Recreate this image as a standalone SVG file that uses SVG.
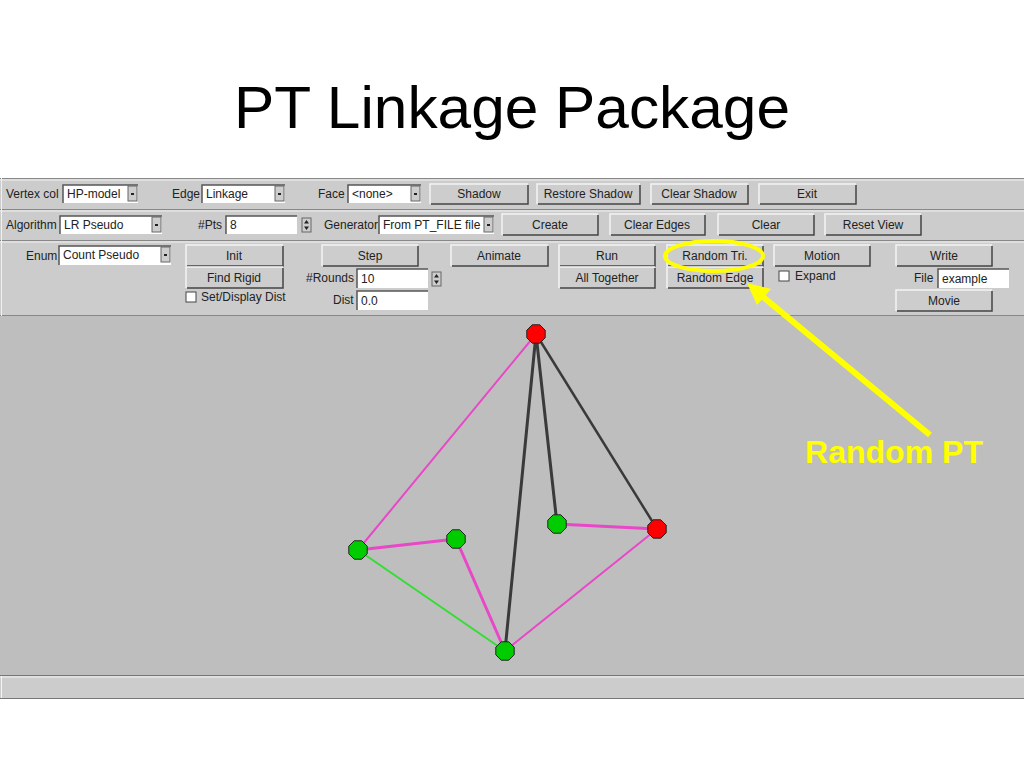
<svg xmlns="http://www.w3.org/2000/svg" width="1024" height="768" viewBox="0 0 1024 768">
<style>
.t{font-family:"Liberation Sans",Arial,sans-serif;font-size:12px;fill:#222}
.tc{font-family:"Liberation Sans",Arial,sans-serif;font-size:12px;fill:#222;text-anchor:middle}
.bf{fill:#cdcdcd}
.hi{fill:none;stroke:#f4f4f4;stroke-width:1.5}
.sh{fill:none;stroke:#444;stroke-width:1.5}
.fld{fill:#ffffff}
.sk{fill:none;stroke:#555;stroke-width:1.5}
.skl{fill:none;stroke:#eee;stroke-width:1}
.arr{fill:#cdcdcd;stroke:#666;stroke-width:1}
.pink{stroke:#e848c8;fill:none}
.dark{stroke:#3a3a3a;fill:none}
.grn{stroke:#33dd33;fill:none}
.red{fill:#ff0000;stroke:#222;stroke-width:1}
.gn{fill:#00cc00;stroke:#222;stroke-width:1}
</style>
<defs>
<polygon id="oct" points="9.2,3.8 3.8,9.2 -3.8,9.2 -9.2,3.8 -9.2,-3.8 -3.8,-9.2 3.8,-9.2 9.2,-3.8"/>
<g id="dd"><rect x="0" y="0" width="9" height="15" class="arr"/><rect x="3" y="7" width="3" height="2" fill="#222"/></g>
<g id="spin"><rect x="0" y="0" width="9" height="14" fill="#cdcdcd" stroke="#666" stroke-width="1"/><path d="M4.5,2 L7,5.5 H2 Z M4.5,12 L7,8.5 H2 Z" fill="#222"/></g>
</defs>
<rect width="1024" height="768" fill="#ffffff"/>
<text x="512" y="128" text-anchor="middle" font-family="Liberation Sans, Arial, sans-serif" font-size="60" fill="#000" textLength="556" lengthAdjust="spacingAndGlyphs">PT Linkage Package</text>

<g id="panel">
<rect x="0" y="178" width="1024" height="138" fill="#cccccc"/>
<path d="M0,178.5 H1024 M0,209.5 H1024 M0,240.5 H1024 M0,315.5 H1024" stroke="#888" stroke-width="1.2"/>
<path d="M0,180 H1024 M0,211 H1024 M0,242 H1024 M1.5,178 V316" stroke="#f0f0f0" stroke-width="1"/>
</g>

<g id="row1">
<text class="t" x="6" y="198">Vertex col</text>
<rect x="63" y="185" width="75" height="18" class="fld"/><path d="M63,203 V185 H138" class="sk"/>
<text class="t" x="67" y="198">HP-model</text><use href="#dd" x="128" y="186"/>
<text class="t" x="172" y="198">Edge</text>
<rect x="202" y="185" width="83" height="18" class="fld"/><path d="M202,203 V185 H285" class="sk"/>
<text class="t" x="206" y="198">Linkage</text><use href="#dd" x="275" y="186"/>
<text class="t" x="318" y="198">Face</text>
<rect x="348" y="185" width="73" height="18" class="fld"/><path d="M348,203 V185 H421" class="sk"/>
<text class="t" x="352" y="198" font-size="11">&lt;none&gt;</text><use href="#dd" x="411" y="186"/>
<g id="b-shadow"><rect x="430" y="184" width="98" height="20" class="bf"/><path d="M430,204 V184 H528" class="hi"/><path d="M431,204 H528 V185" class="sh"/><text class="tc" x="479" y="198">Shadow</text></g>
<g id="b-restore"><rect x="537" y="184" width="103" height="20" class="bf"/><path d="M537,204 V184 H640" class="hi"/><path d="M538,204 H640 V185" class="sh"/><text class="tc" x="588" y="198">Restore Shadow</text></g>
<g id="b-clearshadow"><rect x="651" y="184" width="97" height="20" class="bf"/><path d="M651,204 V184 H748" class="hi"/><path d="M652,204 H748 V185" class="sh"/><text class="tc" x="699" y="198">Clear Shadow</text></g>
<g id="b-exit"><rect x="759" y="184" width="97" height="20" class="bf"/><path d="M759,204 V184 H856" class="hi"/><path d="M760,204 H856 V185" class="sh"/><text class="tc" x="807" y="198">Exit</text></g>
</g>

<g id="row2">
<text class="t" x="6" y="229">Algorithm</text>
<rect x="60" y="216" width="102" height="18" class="fld"/><path d="M60,234 V216 H162" class="sk"/>
<text class="t" x="64" y="229">LR Pseudo</text><use href="#dd" x="152" y="217"/>
<text class="t" x="198" y="229">#Pts</text>
<rect x="226" y="216" width="71" height="18" class="fld"/><path d="M226,234 V216 H297" class="sk"/>
<text class="t" x="230" y="229">8</text><use href="#spin" x="302" y="218"/>
<text class="t" x="324" y="229">Generator</text>
<rect x="379" y="216" width="115" height="18" class="fld"/><path d="M379,234 V216 H494" class="sk"/>
<text class="t" x="383" y="229">From PT_FILE file</text><use href="#dd" x="484" y="217"/>
<g id="b-create"><rect x="502" y="214" width="96" height="21" class="bf"/><path d="M502,235 V214 H598" class="hi"/><path d="M503,235 H598 V215" class="sh"/><text class="tc" x="550" y="229">Create</text></g>
<g id="b-clearedges"><rect x="610" y="214" width="95" height="21" class="bf"/><path d="M610,235 V214 H705" class="hi"/><path d="M611,235 H705 V215" class="sh"/><text class="tc" x="657" y="229">Clear Edges</text></g>
<g id="b-clear"><rect x="718" y="214" width="96" height="21" class="bf"/><path d="M718,235 V214 H814" class="hi"/><path d="M719,235 H814 V215" class="sh"/><text class="tc" x="766" y="229">Clear</text></g>
<g id="b-resetview"><rect x="825" y="214" width="96" height="21" class="bf"/><path d="M825,235 V214 H921" class="hi"/><path d="M826,235 H921 V215" class="sh"/><text class="tc" x="873" y="229">Reset View</text></g>
</g>

<g id="row3">
<text class="t" x="26" y="260">Enum</text>
<rect x="59" y="246" width="112" height="19" class="fld"/><path d="M59,265 V246 H171" class="sk"/>
<text class="t" x="63" y="259">Count Pseudo</text><use href="#dd" x="161" y="247"/>
<g id="b-init"><rect x="186" y="245" width="97" height="21" class="bf"/><path d="M186,266 V245 H283" class="hi"/><path d="M187,266 H283 V246" class="sh"/><text class="tc" x="234" y="260">Init</text></g>
<g id="b-findrigid"><rect x="186" y="267" width="97" height="21" class="bf"/><path d="M186,288 V267 H283" class="hi"/><path d="M187,288 H283 V268" class="sh"/><text class="tc" x="234" y="282">Find Rigid</text></g>
<rect x="186" y="292" width="10" height="10" fill="#fff" stroke="#444" stroke-width="1"/>
<text class="t" x="201" y="301">Set/Display Dist</text>
<g id="b-step"><rect x="322" y="245" width="96" height="21" class="bf"/><path d="M322,266 V245 H418" class="hi"/><path d="M323,266 H418 V246" class="sh"/><text class="tc" x="370" y="260">Step</text></g>
<text class="t" x="306" y="282">#Rounds</text>
<rect x="357" y="269" width="71" height="19" class="fld"/><path d="M357,288 V269 H428" class="sk"/>
<text class="t" x="361" y="283">10</text><use href="#spin" x="432" y="272"/>
<text class="t" x="333" y="304">Dist</text>
<rect x="357" y="291" width="71" height="19" class="fld"/><path d="M357,310 V291 H428" class="sk"/>
<text class="t" x="361" y="305">0.0</text>
<g id="b-animate"><rect x="451" y="245" width="97" height="21" class="bf"/><path d="M451,266 V245 H548" class="hi"/><path d="M452,266 H548 V246" class="sh"/><text class="tc" x="499" y="260">Animate</text></g>
<g id="b-run"><rect x="559" y="245" width="96" height="21" class="bf"/><path d="M559,266 V245 H655" class="hi"/><path d="M560,266 H655 V246" class="sh"/><text class="tc" x="607" y="260">Run</text></g>
<g id="b-alltogether"><rect x="559" y="267" width="96" height="21" class="bf"/><path d="M559,288 V267 H655" class="hi"/><path d="M560,288 H655 V268" class="sh"/><text class="tc" x="607" y="282">All Together</text></g>
<g id="b-randomtri"><rect x="667" y="245" width="96" height="21" class="bf"/><path d="M667,266 V245 H763" class="hi"/><path d="M668,266 H763 V246" class="sh"/><text class="tc" x="715" y="260">Random Tri.</text></g>
<g id="b-randomedge"><rect x="667" y="267" width="96" height="21" class="bf"/><path d="M667,288 V267 H763" class="hi"/><path d="M668,288 H763 V268" class="sh"/><text class="tc" x="715" y="282">Random Edge</text></g>
<g id="b-motion"><rect x="774" y="245" width="96" height="21" class="bf"/><path d="M774,266 V245 H870" class="hi"/><path d="M775,266 H870 V246" class="sh"/><text class="tc" x="822" y="260">Motion</text></g>
<rect x="779" y="271" width="10" height="10" fill="#fff" stroke="#444" stroke-width="1"/>
<text class="t" x="795" y="280">Expand</text>
<g id="b-write"><rect x="896" y="245" width="96" height="21" class="bf"/><path d="M896,266 V245 H992" class="hi"/><path d="M897,266 H992 V246" class="sh"/><text class="tc" x="944" y="260">Write</text></g>
<text class="t" x="914" y="282">File</text>
<rect x="938" y="269" width="71" height="19" class="fld"/><path d="M938,288 V269 H1009" class="sk"/>
<text class="t" x="942" y="283">example</text>
<g id="b-movie"><rect x="896" y="290" width="96" height="21" class="bf"/><path d="M896,311 V290 H992" class="hi"/><path d="M897,311 H992 V291" class="sh"/><text class="tc" x="944" y="305">Movie</text></g>
</g>

<rect id="canvas" x="0" y="316" width="1024" height="359" fill="#bebebe"/>
<g id="statusbar">
<rect x="0" y="676" width="1024" height="22" fill="#cccccc"/>
<path d="M0,675.5 H1024 M0,698.5 H1024" stroke="#777" stroke-width="1.2"/>
<path d="M0,677 H1024 M1.5,676 V698" stroke="#f4f4f4" stroke-width="1"/>
</g>

<g id="connectors" stroke-linecap="round">
<line x1="536" y1="334" x2="358" y2="550" class="pink" stroke-width="2"/>
<line x1="657" y1="529" x2="505" y2="651" class="pink" stroke-width="2"/>
<line x1="557" y1="524" x2="657" y2="529" class="pink" stroke-width="3"/>
<line x1="358" y1="550" x2="456" y2="539" class="pink" stroke-width="3"/>
<line x1="456" y1="539" x2="505" y2="651" class="pink" stroke-width="3"/>
<line x1="358" y1="550" x2="505" y2="651" class="grn" stroke-width="2"/>
<line x1="536" y1="334" x2="505" y2="651" class="dark" stroke-width="3"/>
<line x1="536" y1="334" x2="557" y2="524" class="dark" stroke-width="3"/>
<line x1="536" y1="334" x2="657" y2="529" class="dark" stroke-width="2.5"/>
</g>

<g id="n-top"><use href="#oct" x="536" y="334" class="red"/></g>
<g id="n-right"><use href="#oct" x="657" y="529" class="red"/></g>
<g id="n-mid"><use href="#oct" x="557" y="524" class="gn"/></g>
<g id="n-left"><use href="#oct" x="358" y="550" class="gn"/></g>
<g id="n-inner"><use href="#oct" x="456" y="539" class="gn"/></g>
<g id="n-bottom"><use href="#oct" x="505" y="651" class="gn"/></g>

<g id="annotation">
<ellipse cx="714" cy="256" rx="49" ry="15" fill="none" stroke="#ffff00" stroke-width="4"/>
<line x1="930" y1="435" x2="762" y2="296" stroke="#ffff00" stroke-width="6"/>
<polygon points="747,283 771,289 757,305" fill="#ffff00"/>
<text x="805" y="463" font-family="Liberation Sans, Arial, sans-serif" font-weight="bold" font-size="32" fill="#ffff00" textLength="178" lengthAdjust="spacingAndGlyphs">Random PT</text>
</g>
</svg>
